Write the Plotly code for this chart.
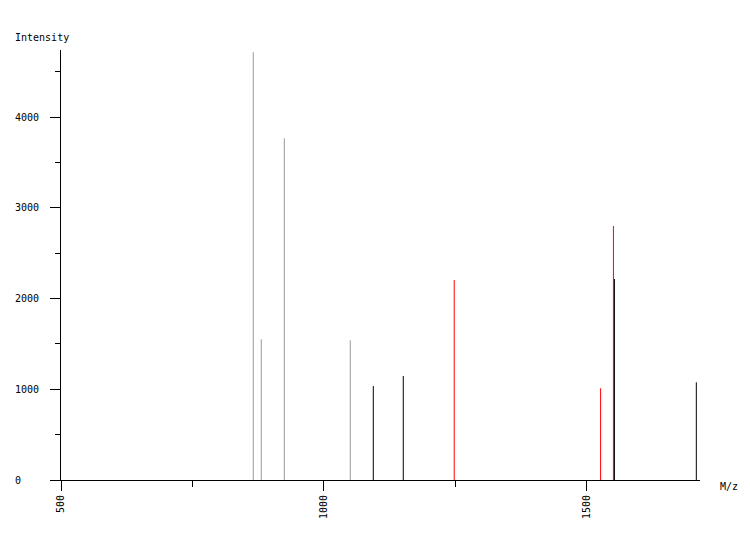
import plotly.graph_objects as go

# Data
gray_mz = [865.6, 880.8, 924.6, 1050.0]
gray_int = [4716, 1551, 3767, 1540]
black_mz = [1093.8, 1150.8, 1552.3, 1708.0]
black_int = [1036, 1147, 2216, 1077]
red_mz = [1247.7, 1526.0, 1550.4]
red_int = [2205, 1011, 2800]

y_ticks = [0, 1000, 2000, 3000, 4000]
x_ticks = [500, 1000, 1500]

FONT = "DejaVu Sans Mono"
NB = "\u00a0"


def sticks(xs, ys):
    px, py = [], []
    for x, y in zip(xs, ys):
        px += [x, x, None]
        py += [0, y, None]
    return px, py


fig = go.Figure()
for xs, ys, col in [(gray_mz, gray_int, "rgb(153,153,153)"),
                    (black_mz, black_int, "black"),
                    (red_mz, red_int, "red")]:
    px, py = sticks(xs, ys)
    fig.add_trace(go.Scatter(x=px, y=py, mode="lines",
                             line=dict(color=col, width=1),
                             hoverinfo="skip", showlegend=False))

ylab_w = max(len(str(v)) for v in y_ticks)
xlab_w = max(len(str(v)) for v in x_ticks)

fig.update_layout(
    width=742, height=532,
    margin=dict(l=53, r=50, t=42, b=60, autoexpand=False),
    paper_bgcolor="white", plot_bgcolor="white",
    font=dict(family=FONT, size=10, color="black"),
    xaxis=dict(range=[500, 1715], showgrid=False, zeroline=False,
               automargin=False,
               showline=True, linecolor="black", linewidth=1,
               ticks="outside", ticklen=10, tickcolor="black", tickwidth=1,
               tickvals=x_ticks,
               ticktext=[NB * (xlab_w - len(str(v))) + str(v) for v in x_ticks],
               tickangle=-90, tickfont=dict(family=FONT, size=10),
               minor=dict(dtick=250, tick0=500, ticks="outside", ticklen=6,
                          tickcolor="black", showgrid=False)),
    yaxis=dict(range=[0, 4741], showgrid=False, zeroline=False,
               automargin=False,
               showline=True, linecolor="black", linewidth=1,
               ticks="outside", ticklen=10, tickcolor="black", tickwidth=1,
               tickvals=y_ticks, ticklabelstandoff=9,
               ticktext=[str(v) + NB * (ylab_w - len(str(v))) for v in y_ticks],
               tickfont=dict(family=FONT, size=10),
               minor=dict(dtick=500, tick0=0, ticks="outside", ticklen=5,
                          tickcolor="black", showgrid=False)),
    annotations=[
        dict(text="Intensity", xref="paper", yref="paper",
             x=(13 - 61) / 639, y=(480 - 37) / 430,
             xanchor="left", yanchor="middle", showarrow=False,
             font=dict(family=FONT, size=10)),
        dict(text="M/z", xref="paper", yref="paper",
             x=(718 - 61) / 639, y=(480 - 487) / 430,
             xanchor="left", yanchor="middle", showarrow=False,
             font=dict(family=FONT, size=10)),
    ],
)

fig.write_html("out.html")
